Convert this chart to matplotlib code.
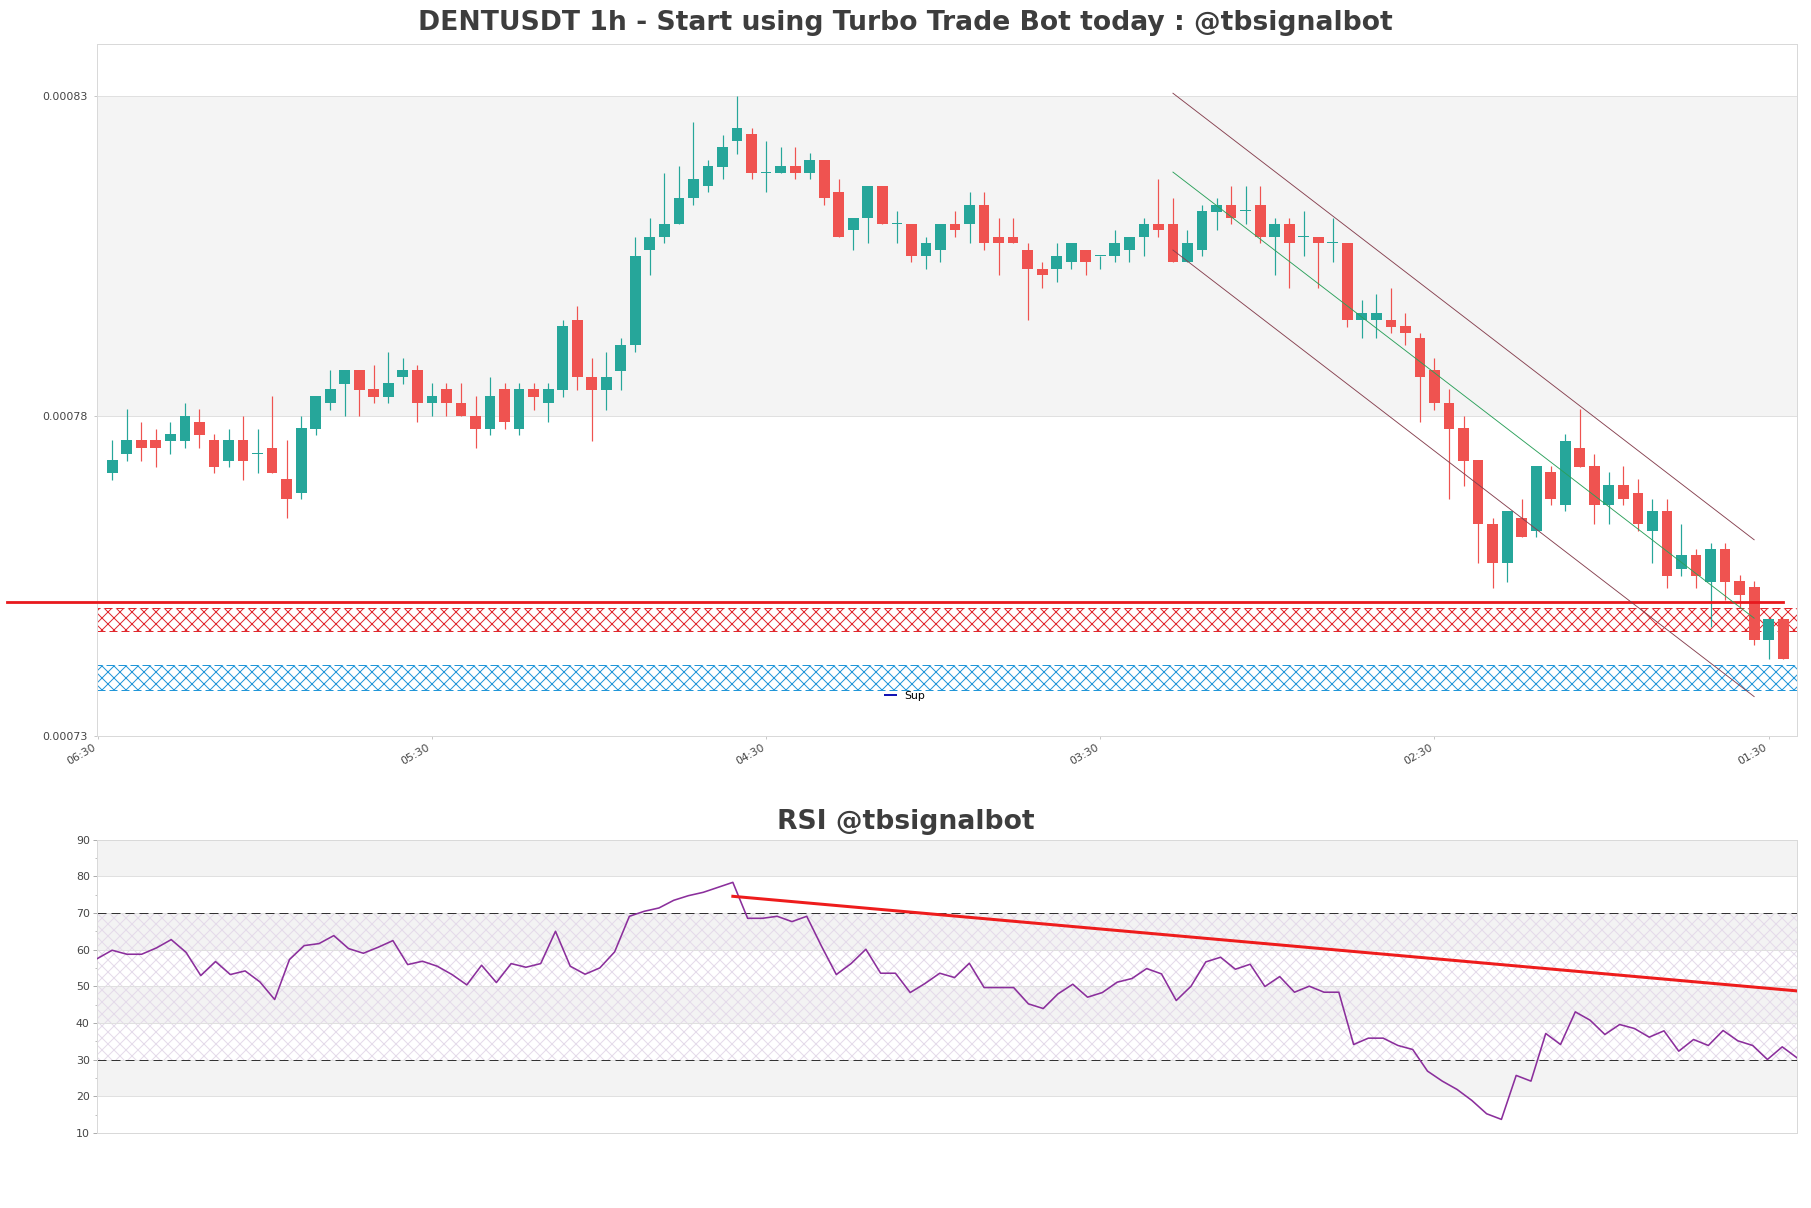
import matplotlib
matplotlib.use("Agg")
import matplotlib.pyplot as plt
from matplotlib.lines import Line2D
import numpy as np

# ---------------- data ----------------
opens = [0.00077112, 0.00077405, 0.00077620, 0.00077620, 0.00077613, 0.00077613, 0.00077914, 0.00077620,
         0.00077298, 0.00077620, 0.00077405, 0.00077506, 0.00077011, 0.00076797, 0.00077799, 0.00078201,
         0.00078502, 0.00078716, 0.00078415, 0.00078294, 0.00078609, 0.00078716, 0.00078201, 0.00078415,
         0.00078208, 0.00078000, 0.00077799, 0.00078415, 0.00077799, 0.00078415, 0.00078201, 0.00078408,
         0.00079504, 0.00078609, 0.00078408, 0.00078702, 0.00079117, 0.00080586, 0.00080794, 0.00080994,
         0.00081403, 0.00081589, 0.00081897, 0.00082291, 0.00082405, 0.00081797, 0.00081789, 0.00081911,
         0.00081789, 0.00081997, 0.00081503, 0.00080901, 0.00081095, 0.00081596, 0.00081001, 0.00081001,
         0.00080500, 0.00080586, 0.00081001, 0.00080994, 0.00081302, 0.00080801, 0.00080801, 0.00080600,
         0.00080299, 0.00080299, 0.00080400, 0.00080600, 0.00080500, 0.00080500, 0.00080586, 0.00080794,
         0.00081001, 0.00081001, 0.00080400, 0.00080586, 0.00081195, 0.00081302, 0.00081202, 0.00081302,
         0.00080794, 0.00081001, 0.00080801, 0.00080801, 0.00080701, 0.00080708, 0.00079497, 0.00079497,
         0.00079504, 0.00079404, 0.00079211, 0.00078716, 0.00078208, 0.00077807, 0.00077305, 0.00076317,
         0.00075708, 0.00076410, 0.00076209, 0.00077119, 0.00076610, 0.00077506, 0.00077212, 0.00076610,
         0.00076918, 0.00076804, 0.00076209, 0.00076510, 0.00075615, 0.00075822, 0.00075407, 0.00075915,
         0.00075421, 0.00075328, 0.00074504, 0.00074827]
highs = [0.00077620, 0.00078115, 0.00077914, 0.00077799, 0.00077914, 0.00078208, 0.00078115, 0.00077713,
         0.00077799, 0.00078000, 0.00077799, 0.00078315, 0.00077620, 0.00078000, 0.00078308, 0.00078716,
         0.00078716, 0.00078716, 0.00078802, 0.00079003, 0.00078910, 0.00078802, 0.00078509, 0.00078509,
         0.00078509, 0.00078308, 0.00078609, 0.00078509, 0.00078509, 0.00078509, 0.00078509, 0.00079504,
         0.00079712, 0.00078910, 0.00079003, 0.00079211, 0.00080801, 0.00081095, 0.00081797, 0.00081911,
         0.00082592, 0.00081997, 0.00082398, 0.00083000, 0.00082499, 0.00082298, 0.00082205, 0.00082205,
         0.00082105, 0.00081997, 0.00081703, 0.00081095, 0.00081596, 0.00081596, 0.00081202, 0.00081001,
         0.00080801, 0.00081001, 0.00081202, 0.00081503, 0.00081503, 0.00081095, 0.00081095, 0.00080701,
         0.00080400, 0.00080701, 0.00080708, 0.00080600, 0.00080500, 0.00080901, 0.00080801, 0.00081095,
         0.00081703, 0.00081403, 0.00080901, 0.00081302, 0.00081403, 0.00081596, 0.00081596, 0.00081596,
         0.00081095, 0.00081095, 0.00081202, 0.00080801, 0.00081095, 0.00080708, 0.00079805, 0.00079905,
         0.00079999, 0.00079605, 0.00079304, 0.00078910, 0.00078415, 0.00078000, 0.00077305, 0.00076410,
         0.00076510, 0.00076703, 0.00077212, 0.00077212, 0.00077713, 0.00078115, 0.00077405, 0.00077119,
         0.00077212, 0.00077011, 0.00076703, 0.00076703, 0.00076317, 0.00075915, 0.00076009, 0.00076009,
         0.00075521, 0.00075421, 0.00074827, 0.00074827]
lows = [0.00077004, 0.00077298, 0.00077298, 0.00077205, 0.00077405, 0.00077499, 0.00077499, 0.00077112,
        0.00077205, 0.00077004, 0.00077112, 0.00077112, 0.00076410, 0.00076703, 0.00077706, 0.00078100,
        0.00078000, 0.00078000, 0.00078201, 0.00078201, 0.00078502, 0.00077914, 0.00078000, 0.00078000,
        0.00078000, 0.00077499, 0.00077706, 0.00077799, 0.00077706, 0.00078100, 0.00077914, 0.00078294,
        0.00078408, 0.00077613, 0.00078100, 0.00078408, 0.00079003, 0.00080199, 0.00080701, 0.00080994,
        0.00081295, 0.00081496, 0.00081696, 0.00082090, 0.00081696, 0.00081496, 0.00081789, 0.00081696,
        0.00081696, 0.00081295, 0.00080794, 0.00080586, 0.00080701, 0.00080994, 0.00080701, 0.00080400,
        0.00080299, 0.00080400, 0.00080801, 0.00080701, 0.00080586, 0.00080199, 0.00080701, 0.00079504,
        0.00079999, 0.00080099, 0.00080299, 0.00080199, 0.00080299, 0.00080400, 0.00080400, 0.00080500,
        0.00080801, 0.00080400, 0.00080400, 0.00080500, 0.00080901, 0.00080994, 0.00080994, 0.00080701,
        0.00080199, 0.00079999, 0.00080500, 0.00079999, 0.00080400, 0.00079397, 0.00079211, 0.00079211,
        0.00079304, 0.00079110, 0.00077914, 0.00078100, 0.00076703, 0.00076911, 0.00075708, 0.00075314,
        0.00075407, 0.00076109, 0.00076109, 0.00076610, 0.00076510, 0.00077205, 0.00076317, 0.00076317,
        0.00076610, 0.00076209, 0.00075708, 0.00075314, 0.00075507, 0.00075314, 0.00074705, 0.00075120,
        0.00075020, 0.00074418, 0.00074203, 0.00074203]
closes = [0.00077305, 0.00077620, 0.00077499, 0.00077499, 0.00077713, 0.00078000, 0.00077706, 0.00077205,
          0.00077620, 0.00077298, 0.00077405, 0.00077112, 0.00076703, 0.00077807, 0.00078308, 0.00078415,
          0.00078716, 0.00078408, 0.00078294, 0.00078509, 0.00078716, 0.00078201, 0.00078308, 0.00078201,
          0.00078000, 0.00077799, 0.00078308, 0.00077914, 0.00078415, 0.00078294, 0.00078415, 0.00079411,
          0.00078609, 0.00078408, 0.00078609, 0.00079117, 0.00080507, 0.00080801, 0.00081001, 0.00081410,
          0.00081703, 0.00081911, 0.00082205, 0.00082499, 0.00081789, 0.00081797, 0.00081911, 0.00081789,
          0.00081997, 0.00081403, 0.00080794, 0.00081095, 0.00081596, 0.00080994, 0.00081001, 0.00080500,
          0.00080708, 0.00081001, 0.00080901, 0.00081302, 0.00080701, 0.00080701, 0.00080701, 0.00080299,
          0.00080199, 0.00080500, 0.00080708, 0.00080400, 0.00080500, 0.00080708, 0.00080801, 0.00081001,
          0.00080901, 0.00080400, 0.00080708, 0.00081202, 0.00081302, 0.00081095, 0.00081202, 0.00080794,
          0.00081001, 0.00080701, 0.00080801, 0.00080701, 0.00080701, 0.00079497, 0.00079605, 0.00079605,
          0.00079397, 0.00079304, 0.00078609, 0.00078201, 0.00077799, 0.00077298, 0.00076317, 0.00075708,
          0.00076510, 0.00076109, 0.00077212, 0.00076703, 0.00077613, 0.00077205, 0.00076610, 0.00076918,
          0.00076703, 0.00076317, 0.00076510, 0.00075507, 0.00075822, 0.00075507, 0.00075915, 0.00075407,
          0.00075206, 0.00074504, 0.00074827, 0.00074203]

rsi = [57.57, 59.85, 58.76, 58.76, 60.48, 62.75, 59.30, 52.94, 56.76, 53.22, 54.21, 51.22, 46.40, 57.30,
       61.12, 61.66, 63.84, 60.30, 59.03, 60.66, 62.48, 55.94, 56.85, 55.49, 53.22, 50.40, 55.76, 51.04,
       56.21, 55.21, 56.21, 65.02, 55.49, 53.31, 55.03, 59.39, 69.11, 70.47, 71.38, 73.47, 74.74, 75.65,
       77.01, 78.37, 68.56, 68.56, 69.11, 67.66, 69.11, 60.94, 53.22, 56.21, 60.12, 53.58, 53.58, 48.31,
       50.77, 53.58, 52.40, 56.30, 49.67, 49.67, 49.67, 45.22, 43.95, 47.95, 50.58, 47.04, 48.31, 51.13,
       52.13, 54.85, 53.40, 46.13, 50.04, 56.67, 57.94, 54.67, 56.03, 49.95, 52.67, 48.40, 50.04, 48.40,
       48.40, 34.14, 35.87, 35.87, 33.87, 32.78, 26.88, 24.15, 21.88, 18.88, 15.25, 13.71, 25.70, 24.15,
       37.14, 34.14, 43.04, 40.77, 36.87, 39.59, 38.50, 36.14, 37.87, 32.32, 35.50, 33.87, 37.96, 35.14,
       33.87, 30.05, 33.50, 30.51]

xtick_pos = [-1, 22, 45, 68, 91, 114]
xtick_labels = ["06:30", "05:30", "04:30", "03:30", "02:30", "01:30"]
ytick_main = [0.00073, 0.00078, 0.00083]
ytick_main_labels = ["0.00073", "0.00078", "0.00083"]

# channel (index, price)
channel_x = [73, 113]
channel_upper = [0.00083043, 0.00076066]
channel_mid = [0.00081811, 0.00074841]
channel_lower = [0.00080593, 0.00073616]

res_level = 0.00075092
res_x = [-7.25, 115]
res_zone = (0.00074633, 0.00075006)
sup_zone = (0.00073716, 0.00074117)

rsi_trend_x = [43, 115]
rsi_trend_y = [74.56, 48.76]

# ---------------- figure ----------------
W, H, DPI = 1811, 1208, 72
fig = plt.figure(figsize=(W / DPI, H / DPI), dpi=DPI, facecolor="white")
ax = fig.add_axes([0.05373, 0.39073, 0.93854, 0.57309])
rax = fig.add_axes([0.05373, 0.06209, 0.93854, 0.24279])

GREEN = "#26a69a"
RED = "#ef5350"
SPINE = "#d9d9d9"
GRID = "#e0e0e0"
BAND = "#f4f4f4"
TXT = "#444444"

o = np.array(opens); h = np.array(highs); l = np.array(lows); c = np.array(closes)
x = np.arange(len(o))
colors = [GREEN if cc >= oo else RED for oo, cc in zip(o, c)]
bottoms = np.minimum(o, c)
heights = np.maximum(np.abs(c - o), 0.016e-5)

# main axes
ax.set_xlim(-1.03, 115.95)
ax.set_ylim(0.00073, 0.00083817)
ax.axhspan(0.00078, 0.00083, color=BAND, lw=0, zorder=0)
for yv in ytick_main:
    ax.axhline(yv, color=GRID, lw=1, zorder=0.5)
ax.vlines(x, l, h, colors=colors, lw=1.2, zorder=3)
ax.bar(x, heights, bottom=bottoms, width=0.74, color=colors, lw=0, zorder=4)

ax.axhspan(res_zone[0], res_zone[1], facecolor="none", edgecolor="#e0282d",
           hatch="xx", lw=1, linestyle=(0, (8, 4)), zorder=2)
ax.axhspan(sup_zone[0], sup_zone[1], facecolor="none", edgecolor="#2196d8",
           hatch="xx", lw=1, linestyle=(0, (8, 4)), zorder=2)
ax.plot(res_x, [res_level, res_level], color="#e8191e", lw=2.8, zorder=5, clip_on=False)

ax.plot(channel_x, channel_upper, color="#86404f", lw=0.9, zorder=5)
ax.plot(channel_x, channel_lower, color="#86404f", lw=0.9, zorder=5)
ax.plot(channel_x, channel_mid, color="#2aa05a", lw=0.9, zorder=5)

ax.set_yticks(ytick_main)
ax.set_yticklabels(ytick_main_labels)
ax.set_xticks(xtick_pos)
ax.set_xticklabels(xtick_labels, rotation=30, ha="right")
ax.tick_params(axis="both", labelsize=11, colors=TXT, length=3, width=0.8)
ax.tick_params(axis="y", pad=7)
ax.tick_params(axis="both", color="#bbbbbb")
for s in ax.spines.values():
    s.set_color(SPINE)
    s.set_linewidth(1)

leg = ax.legend(handles=[Line2D([], [], color="#1414b4", lw=2)], labels=["Sup"],
                loc="center", bbox_to_anchor=(0.4752, 0.0578), frameon=False,
                fontsize=11, handlelength=1.0, handletextpad=0.75)

# RSI axes
rax.set_xlim(0, len(rsi) - 1)
rax.set_ylim(10, 90)
for lo in (80, 60, 40, 20):
    rax.axhspan(lo, lo + 10, color="#f3f3f3", lw=0, zorder=0)
rax.axhspan(30, 70, facecolor="none", edgecolor="#e4dbea", hatch="xx", lw=0, zorder=0.6)
for yv in range(10, 100, 10):
    rax.axhline(yv, color=GRID, lw=1, zorder=0.7)
rax.axhline(70, color="#333333", lw=1, linestyle=(0, (9, 5)), zorder=2)
rax.axhline(30, color="#333333", lw=1, linestyle=(0, (9, 5)), zorder=2)
rax.plot(np.arange(len(rsi)), rsi, color="#8b2f9c", lw=1.6, zorder=3)
rax.plot(rsi_trend_x, rsi_trend_y, color="#ee1c1c", lw=3, zorder=4)
rax.set_yticks(range(10, 100, 10))
rax.set_yticks(range(15, 90, 10), minor=True)
rax.set_xticks([])
rax.tick_params(axis="y", labelsize=11, colors=TXT, length=4, width=0.8)
rax.tick_params(axis="y", which="both", color="#999999")
rax.tick_params(axis="y", which="minor", length=2)
for s in rax.spines.values():
    s.set_color(SPINE)
    s.set_linewidth(1)

fig.text(0.5, 1 - 30 / H, "DENTUSDT 1h - Start using Turbo Trade Bot today : @tbsignalbot",
         ha="center", va="baseline", fontsize=26.6, fontweight="bold", color="#3d3d3d")
fig.text(0.5, 1 - 829.3 / H, "RSI @tbsignalbot",
         ha="center", va="baseline", fontsize=26.6, fontweight="bold", color="#3d3d3d")

fig.savefig("out.png", dpi=DPI, facecolor="white")
